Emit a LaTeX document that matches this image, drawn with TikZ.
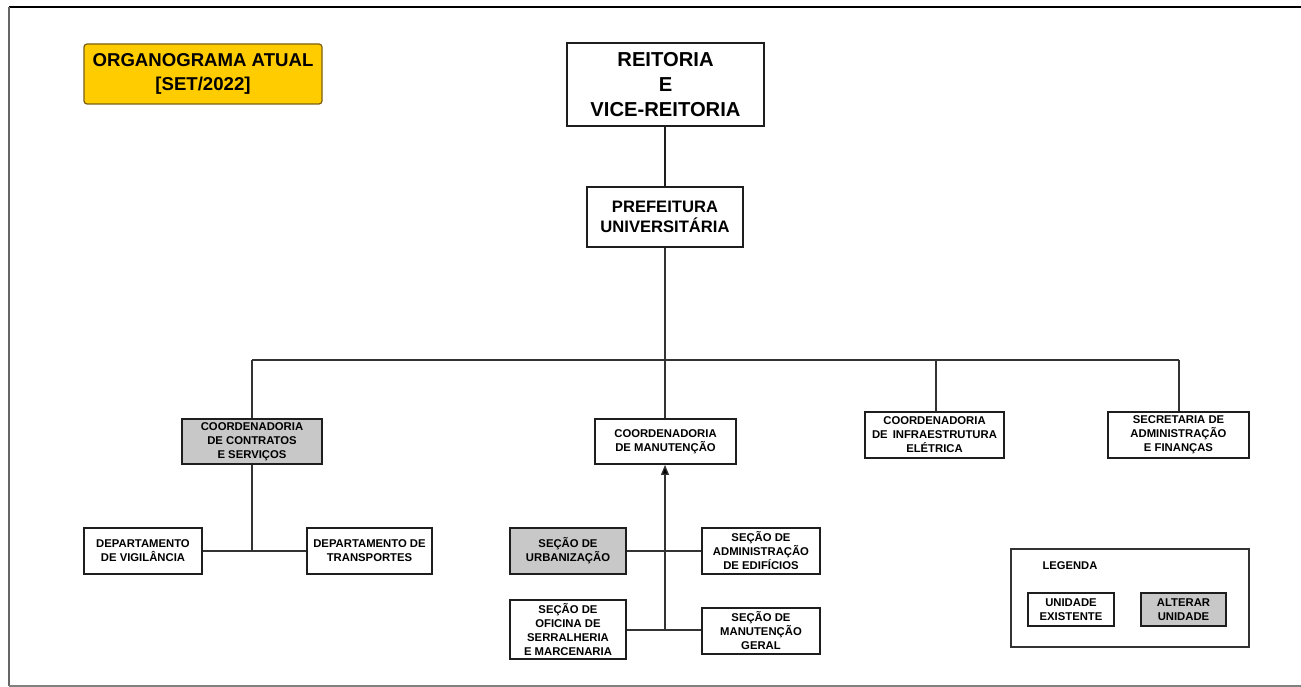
\documentclass[tikz,border=0pt]{standalone}
\usepackage{fontspec}
\setmainfont{Liberation Sans}
\usetikzlibrary{arrows.meta}
\definecolor{boxgray}{HTML}{C8C8C8}
\definecolor{titlefill}{HTML}{FFCC00}
\definecolor{titledraw}{HTML}{7A5E10}
\definecolor{linecol}{HTML}{333333}
\definecolor{boxline}{HTML}{1E1E1E}
\tikzset{
  unit/.style={draw=boxline, line width=1.8pt, fill=white, inner sep=0pt, align=center,
    font=\bfseries\fontsize{11.3}{14}\selectfont},
  altunit/.style={unit, fill=boxgray},
  big/.style={draw=boxline, line width=1.8pt, fill=white, inner sep=0pt, align=center},
  conn/.style={draw=linecol, line width=1.2pt},
}
\begin{document}
\begin{tikzpicture}[x=1pt,y=-1pt]
\useasboundingbox (0,0) rectangle (1301,687);
% frame
\draw[black, line width=1.3pt] (1301,7) -- (9,7);
\draw[gray!80!black, line width=1.6pt] (9,7) -- (9,686);
\draw[gray, line width=1.4pt] (9,686) -- (1301,686);

% title
\node[draw=titledraw, fill=titlefill, line width=1.2pt, rounded corners=3pt,
  minimum width=238pt, minimum height=60pt, inner sep=0pt, align=center,
  font=\bfseries\fontsize{18.6}{24}\selectfont] (title) at (203,74) {ORGANOGRAMA ATUAL\\{}[SET/2022]};

% top
\node[big, minimum width=197pt, minimum height=83pt, font=\bfseries\fontsize{20.2}{25}\selectfont]
  (reit) at (665.5,84.5) {REITORIA\\E\\VICE-REITORIA};
\node[big, minimum width=156pt, minimum height=60pt, font=\bfseries\fontsize{16.6}{20}\selectfont]
  (pref) at (665,217) {PREFEITURA\\UNIVERSITÁRIA};

% second level
\node[altunit, minimum width=140pt, minimum height=45pt] (ccs) at (252,441.5) {COORDENADORIA\\DE CONTRATOS\\E SERVIÇOS};
\node[unit, minimum width=141pt, minimum height=45pt] (cm) at (665.5,441.5) {COORDENADORIA\\DE MANUTENÇÃO};
\node[unit, minimum width=139pt, minimum height=46pt] (cie) at (934.5,435) {COORDENADORIA\\DE\, INFRAESTRUTURA\\ELÉTRICA};
\node[unit, minimum width=141pt, minimum height=46pt] (saf) at (1178.5,435) {SECRETARIA DE\\ADMINISTRAÇÃO\\E FINANÇAS};

% third level
\node[unit, minimum width=118pt, minimum height=46pt] (dv) at (143,551) {DEPARTAMENTO\\DE VIGILÂNCIA};
\node[unit, minimum width=125pt, minimum height=46pt] (dt) at (369.5,551) {DEPARTAMENTO DE\\TRANSPORTES};
\node[altunit, minimum width=116pt, minimum height=46pt] (su) at (568,551) {SEÇÃO DE\\URBANIZAÇÃO};
\node[unit, minimum width=118pt, minimum height=46pt] (sae) at (761,551) {SEÇÃO DE\\ADMINISTRAÇÃO\\DE EDIFÍCIOS};
\node[unit, minimum width=116pt, minimum height=59pt] (so) at (568,629.5) {SEÇÃO DE\\OFICINA DE\\SERRALHERIA\\E MARCENARIA};
\node[unit, minimum width=118pt, minimum height=46pt] (smg) at (761,631) {SEÇÃO DE\\MANUTENÇÃO\\GERAL};

% legend
\node[draw=linecol, line width=1.2pt, minimum width=238pt, minimum height=98pt, inner sep=0pt] (leg) at (1130,598) {};
\node[font=\bfseries\fontsize{11.2}{14}\selectfont, inner sep=0pt] (legt) at (1070,566) {LEGENDA};
\node[unit, minimum width=86pt, minimum height=33pt] (ue) at (1071,609.5) {UNIDADE\\EXISTENTE};
\node[altunit, minimum width=85pt, minimum height=33pt] (au) at (1183.5,609.5) {ALTERAR\\UNIDADE};

% connectors
\coordinate (bm) at (665,360);
\coordinate (bl) at (252,360);
\coordinate (bc) at (936,360);
\coordinate (br) at (1179,360);
\draw[draw=boxline, line width=2pt] (pref.north |- reit.south) -- (pref.north);
\draw[conn] (pref.south) -- (bm);
\draw[conn] (bl) -- (br);
\draw[conn] (bl) -- (ccs.north);
\draw[conn] (bm) -- (bm |- cm.north);
\draw[conn] (bc) -- (bc |- cie.north);
\draw[conn] (br) -- (br |- saf.north);
\coordinate (jl) at (252,551);
\draw[conn] (ccs.south) -- (jl);
\draw[conn] (dv.east) -- (dt.west);
\coordinate (jb) at (665,630);
\draw[conn] (su.east) -- (sae.west);
\draw[conn] (so.east |- jb) -- (smg.west |- jb);
\draw[conn, -{Triangle[length=10pt,width=8pt,fill=black]}] (jb) -- (jb |- cm.south);
\end{tikzpicture}
\end{document}
